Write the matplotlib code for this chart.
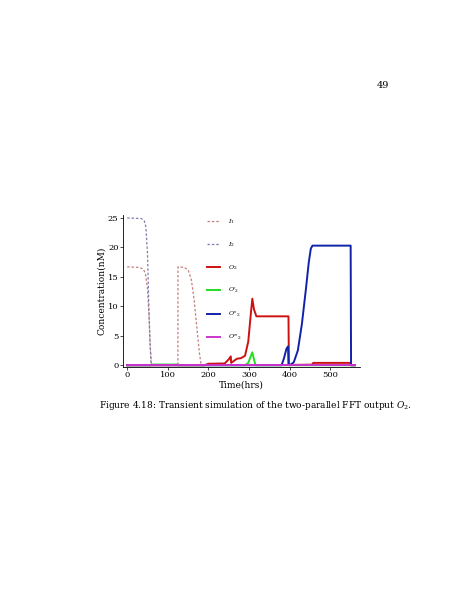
import matplotlib
matplotlib.use("Agg")
import matplotlib.pyplot as plt

plt.rcParams['font.family'] = ['DejaVu Serif']
plt.rcParams['mathtext.fontset'] = 'dejavuserif'

i1_t = [0, 30, 40, 45, 50, 54, 57, 60, 124.9, 125, 140, 150, 158, 165, 172, 178, 182, 560]
i1_v = [16.7, 16.6, 16.3, 15.5, 13, 8, 3, 0, 0, 16.7, 16.6, 16.2, 14.5, 11, 6, 2, 0, 0]
i2_t = [0, 35, 42, 46, 50, 53, 56, 59, 560]
i2_v = [25, 24.9, 24.5, 23.5, 19, 11, 4, 0, 0]
o2_t = [0, 190, 200, 240, 250, 255, 256, 260, 270, 280, 290, 298, 304, 308, 312, 318, 330, 397, 398, 455, 458, 550, 551, 560]
o2_v = [0, 0, 0.25, 0.3, 1.0, 1.5, 0.4, 0.6, 1.1, 1.2, 1.6, 4.0, 8.5, 11.3, 9.5, 8.3, 8.3, 8.3, 0.05, 0.1, 0.4, 0.4, 0, 0]
o2p_t = [0, 59, 60, 125, 126, 290, 298, 304, 308, 312, 316, 560]
o2p_v = [0, 0, 0.12, 0.12, 0, 0, 0.4, 1.5, 2.2, 1.0, 0, 0]
o2pp_t = [0, 380, 386, 392, 396, 397, 400, 410, 420, 430, 440, 447, 452, 456, 550, 551, 560]
o2pp_v = [0, 0, 1.2, 2.8, 3.2, 0.1, 0, 0.5, 2.5, 7, 13, 17.5, 19.8, 20.3, 20.3, 0, 0]
o2ppp_t = [0, 560]
o2ppp_v = [0, 0]

W, H = 463, 599
fig = plt.figure(figsize=(W/100, H/100), dpi=100)
ax = fig.add_axes([122.7/W, 1-367/H, (360-122.7)/W, (367-215)/H])

ax.plot(i1_t, i1_v, color='#c48080', ls=(0, (2, 1.5)), lw=0.9, label='$I_1$')
ax.plot(i2_t, i2_v, color='#8080b0', ls=(0, (2, 1.5)), lw=0.9, label='$I_2$')
ax.plot(o2_t, o2_v, color='#cc1111', lw=1.4, label='$O_2$')
ax.plot(o2p_t, o2p_v, color='#22dd22', lw=1.4, label="$O'_2$")
ax.plot(o2pp_t, o2pp_v, color='#1122aa', lw=1.4, label="$O''_2$")
ax.plot(o2ppp_t, o2ppp_v, color='#cc33cc', lw=1.4, label="$O'''_2$")

ax.set_xlim(-11, 573)
ax.set_ylim(-0.3, 25.5)
ax.set_xticks([0, 100, 200, 300, 400, 500])
ax.set_yticks([0, 5, 10, 15, 20, 25])
ax.tick_params(labelsize=6, length=2, width=0.5, pad=1)
for s in ['top', 'right']:
    ax.spines[s].set_visible(False)
for s in ['left', 'bottom']:
    ax.spines[s].set_linewidth(0.6)
ax.patch.set_alpha(0)
ax.set_xlabel('Time(hrs)', fontsize=6.5, labelpad=1)
ax.set_ylabel('Concentration(nM)', fontsize=6.5, labelpad=1)
leg = ax.legend(loc='upper left', bbox_to_anchor=(0.33, 1.02), frameon=False, fontsize=4.5,
                handlelength=2.2, labelspacing=2.2, handletextpad=1.2)

fig.text(383/W, 1-86/H, '49', fontsize=7, ha='center', va='center')
fig.text(255/W, 1-405/H, 'Figure 4.18: Transient simulation of the two-parallel FFT output $O_2$.',
         fontsize=6.5, ha='center', va='center')

fig.savefig('out.png', dpi=100)
